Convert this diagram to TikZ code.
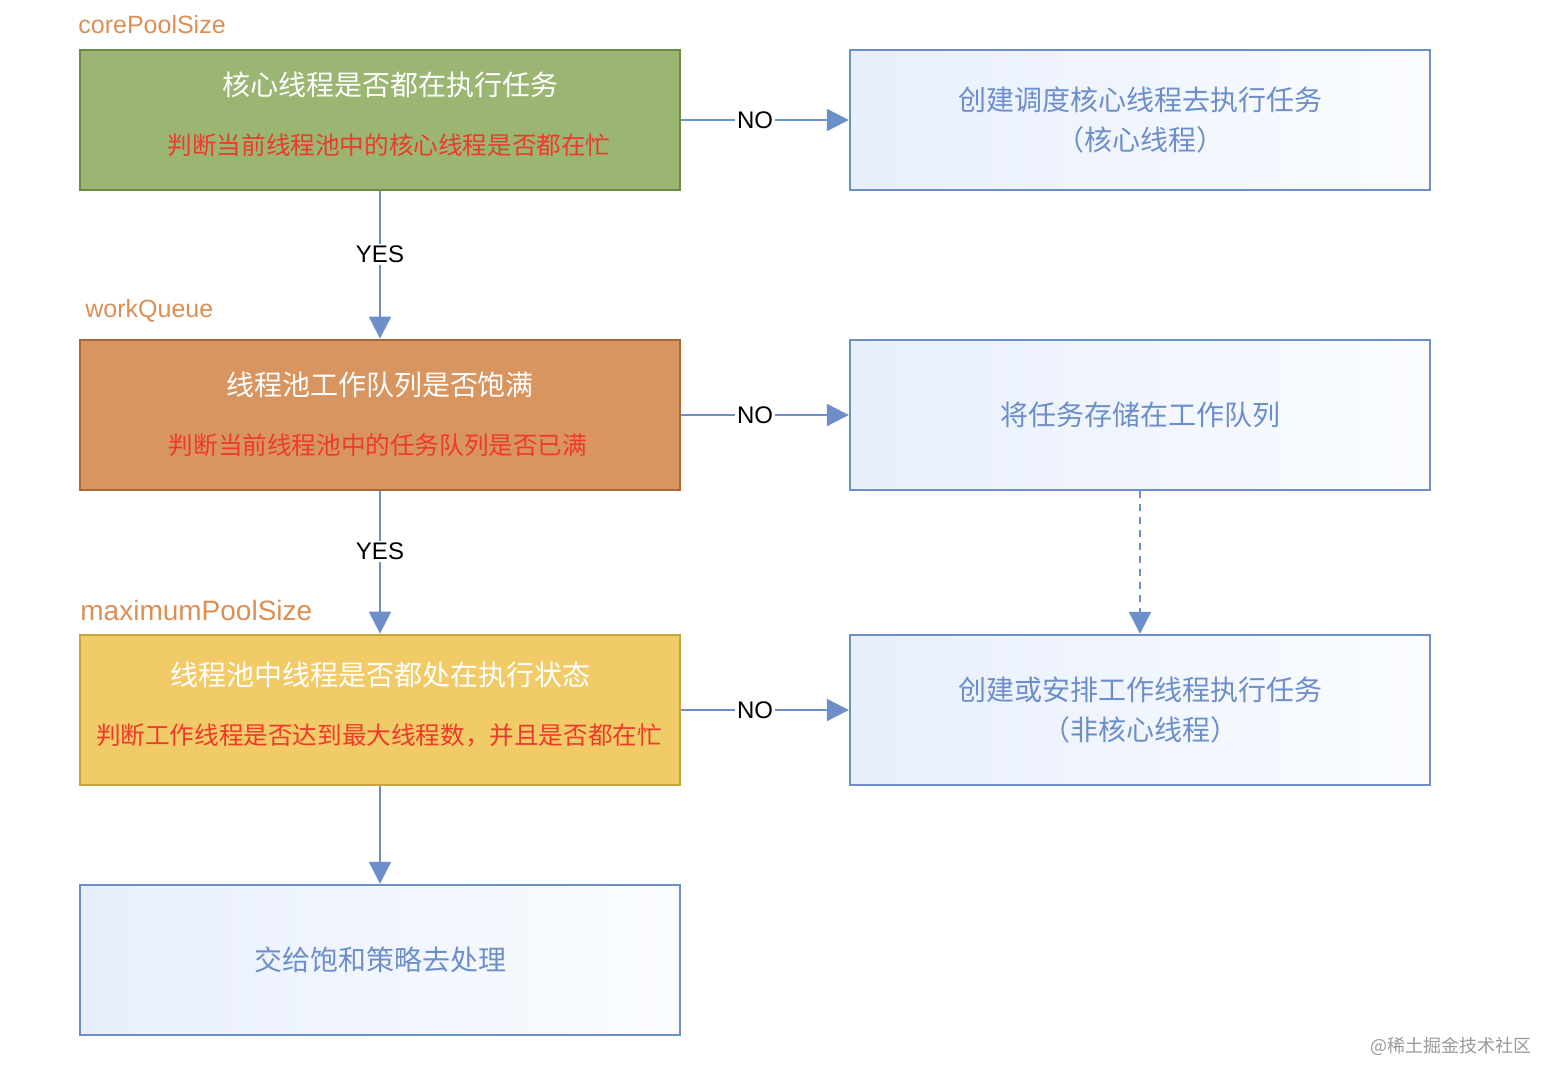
\documentclass[tikz,border=0pt]{standalone}
\usepackage{fontspec}
\setmainfont{Liberation Sans}
\newfontfamily\cjk{Noto Sans CJK SC}
\usetikzlibrary{arrows.meta,positioning}
\definecolor{lblue}{HTML}{6C8EC9}
\definecolor{gfill}{HTML}{9BB572}
\definecolor{gline}{HTML}{6E8A47}
\definecolor{ofill}{HTML}{D9955F}
\definecolor{oline}{HTML}{A9673A}
\definecolor{yfill}{HTML}{F1CB68}
\definecolor{yline}{HTML}{C8A43F}
\definecolor{redtxt}{HTML}{EE3A2B}
\definecolor{orangetxt}{HTML}{DB8F55}
\definecolor{bfillA}{HTML}{E8EFFC}
\definecolor{bfillB}{HTML}{FAFCFF}
\tikzset{
  px/.style={x={(0.5pt,0)},y={(0,-0.5pt)}},
  decbox/.style={draw, line width=1.4pt, minimum width=300pt, inner sep=0pt},
  greenbox/.style={decbox, fill=gfill, draw=gline, minimum height=70pt},
  orangebox/.style={decbox, fill=ofill, draw=oline, minimum height=75pt},
  yellowbox/.style={decbox, fill=yfill, draw=yline, minimum height=75pt},
  actbox/.style={draw=lblue, line width=1.2pt, left color=bfillA, right color=bfillB,
     minimum width=290pt, inner sep=0pt, align=center, font=\cjk\fontsize{14}{20}\selectfont, text=lblue},
  titletxt/.style={font=\cjk\fontsize{14}{17}\selectfont, text=white, inner sep=0pt},
  redline/.style={font=\cjk\fontsize{12.3}{15}\selectfont, text=redtxt, inner sep=0pt},
  paramlbl/.style={font=\fontsize{12.5}{14}\selectfont, text=orangetxt, inner sep=0pt, anchor=west},
  conn/.style={draw=lblue, line width=1.1pt, -{Triangle[length=11pt,width=11pt]}},
  edgelbl/.style={font=\fontsize{12}{14}\selectfont, fill=white, inner sep=1pt, text=black},
}
\begin{document}
\begin{tikzpicture}[px]
\useasboundingbox (0,0) rectangle (1560,1085);
% left column
\node[greenbox] (b1) at (380,120) {};
\node[titletxt] (b1t) at (390,85) {核心线程是否都在执行任务};
\node[redline] (b1r) at (389,145) {判断当前线程池中的核心线程是否都在忙};
\node[orangebox] (b2) at (380,415) {};
\node[titletxt] (b2t) at (380,385) {线程池工作队列是否饱满};
\node[redline] (b2r) at (378,445) {判断当前线程池中的任务队列是否已满};
\node[yellowbox] (b3) at (380,710) {};
\node[titletxt] (b3t) at (380,675) {线程池中线程是否都处在执行状态};
\node[redline] (b3r) at (379,735) {判断工作线程是否达到最大线程数，并且是否都在忙};
\node[actbox, minimum width=300pt, minimum height=75pt] (b4) at (380,960) {交给饱和策略去处理};
% right column
\node[actbox, minimum height=70pt] (r1) at (1140,120) {创建调度核心线程去执行任务\\（核心线程）};
\node[actbox, minimum height=75pt] (r2) at (1140,415) {将任务存储在工作队列};
\node[actbox, minimum height=75pt] (r3) at (1140,710) {创建或安排工作线程执行任务\\（非核心线程）};
% parameter labels
\node[paramlbl] (l1) at (78,25) {corePoolSize};
\node[paramlbl] (l2) at (85,311) {workQueue};
\node[paramlbl, font=\fontsize{14}{16}\selectfont] (l3) at (80,610) {maximumPoolSize};
% connectors
\draw[conn] (b1.east) -- node[edgelbl, pos=0.44]{NO} (r1.west);
\draw[conn] (b2.east) -- node[edgelbl, pos=0.44]{NO} (r2.west);
\draw[conn] (b3.east) -- node[edgelbl, pos=0.44]{NO} (r3.west);
\draw[conn] (b1.south) -- node[edgelbl, pos=0.43]{YES} (b2.north);
\draw[conn] (b2.south) -- node[edgelbl, pos=0.42]{YES} (b3.north);
\draw[conn] (b3.south) -- (b4.north);
\draw[conn, dash pattern=on 3.5pt off 3pt] (r2.south) -- (r3.north);
% watermark
\node[font=\cjk\fontsize{9}{11}\selectfont, text=black!40, anchor=east, inner sep=0pt] (wm) at (1532,1046) {@稀土掘金技术社区};
\end{tikzpicture}
\end{document}
